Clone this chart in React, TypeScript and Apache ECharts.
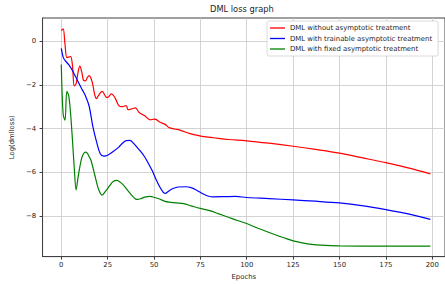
import React, { useEffect, useRef } from "react";
import * as echarts from "echarts";

const TITLE = "DML loss graph";
const X_NAME = "Epochs";
const Y_NAME = "Log(dmlloss)";
const SERIES_NAMES = [
  "DML without asymptotic treatment",
  "DML with trainable asymptotic treatment",
  "DML with fixed asymptotic treatment",
];
const X_TICKS = [0, 25, 50, 75, 100, 125, 150, 175, 200];
const Y_TICKS = [-8, -6, -4, -2, 0];

const redEpochs = [0, 1, 2, 3, 4, 5, 6, 7, 8, 9, 10, 11, 12, 13, 14, 15, 16, 17, 18, 19, 20, 22, 24, 25, 27, 29, 31, 33, 35, 36, 38, 40, 42, 45, 48, 50, 51, 53, 56, 58, 61, 64, 69, 74, 78, 82, 90, 100, 112, 125, 137, 150, 162, 175, 187, 199];
const redLoss = [0.48, 0.55, -0.15, -0.76, -0.74, -0.7, -1.1, -2.05, -1.95, -1.45, -1.15, -1.4, -1.8, -1.82, -1.68, -1.58, -1.7, -2.0, -2.45, -2.64, -2.5, -2.3, -2.55, -2.58, -2.42, -2.6, -2.95, -3.0, -2.95, -3.14, -3.1, -3.06, -3.27, -3.42, -3.6, -3.57, -3.58, -3.7, -3.81, -3.95, -4.02, -4.07, -4.22, -4.32, -4.38, -4.42, -4.5, -4.56, -4.67, -4.81, -4.95, -5.12, -5.33, -5.56, -5.8, -6.07];

const blueEpochs = [0, 1, 2, 4, 6, 8, 11, 13, 15, 17, 19, 21, 23, 25, 28, 31, 33, 35, 37, 39, 41, 43, 45, 47, 49, 51, 53, 55, 56, 58, 60, 63, 67, 70, 73, 76, 79, 82, 88, 94, 100, 112, 125, 137, 150, 162, 175, 187, 199];
const blueLoss = [-0.34, -0.74, -0.89, -1.08, -1.35, -1.68, -2.18, -2.5, -2.97, -3.9, -4.6, -5.15, -5.26, -5.22, -5.05, -4.85, -4.67, -4.55, -4.54, -4.68, -4.87, -5.07, -5.3, -5.6, -5.92, -6.3, -6.65, -6.92, -6.96, -6.85, -6.75, -6.67, -6.66, -6.7, -6.82, -6.97, -7.08, -7.12, -7.11, -7.1, -7.15, -7.2, -7.26, -7.32, -7.4, -7.52, -7.7, -7.9, -8.15];

const greenEpochs = [0, 1, 2, 3, 4, 5, 6, 7, 8, 9, 10, 11, 12, 13, 14, 15, 16, 18, 20, 22, 24, 26, 28, 30, 32, 34, 36, 38, 40, 41, 43, 45, 48, 50, 53, 56, 59, 62, 66, 70, 75, 80, 85, 90, 95, 100, 105, 110, 115, 120, 125, 130, 135, 140, 150, 175, 199];
const greenLoss = [-1.07, -3.35, -3.62, -2.3, -2.5, -3.3, -4.5, -5.8, -6.8, -6.25, -5.75, -5.35, -5.15, -5.08, -5.12, -5.28, -5.45, -6.1, -6.75, -7.04, -6.85, -6.62, -6.42, -6.37, -6.47, -6.63, -6.85, -7.05, -7.22, -7.24, -7.2, -7.13, -7.1, -7.14, -7.22, -7.33, -7.37, -7.4, -7.43, -7.53, -7.65, -7.75, -7.9, -8.05, -8.2, -8.34, -8.52, -8.68, -8.84, -8.99, -9.13, -9.22, -9.29, -9.33, -9.36, -9.37, -9.37];

const COLORS = ["#ff0000", "#0000ff", "#008000"];
const FONT = "DejaVu Sans";
const TEXT = "#262626";

function pairs(xs: number[], ys: number[]) {
  return xs.map((x, i) => [x, ys[i]]);
}

export default function App() {
  const ref = useRef<HTMLDivElement>(null);
  useEffect(() => {
    if (!ref.current) return;
    const chart = echarts.init(ref.current, null, { renderer: "svg" });
    const datasets = [
      pairs(redEpochs, redLoss),
      pairs(blueEpochs, blueLoss),
      pairs(greenEpochs, greenLoss),
    ];
    chart.setOption({
      animation: false,
      backgroundColor: "#ffffff",
      title: {
        text: TITLE,
        left: 210,
        top: 5,
        padding: 0,
        textStyle: { fontFamily: FONT, fontSize: 8.3, fontWeight: "normal", color: TEXT },
      },
      legend: {
        data: SERIES_NAMES,
        orient: "vertical",
        left: 267,
        top: 21,
        padding: [3, 6, 3, 3],
        icon: "rect",
        itemWidth: 15,
        itemHeight: 1.3,
        itemGap: 2.5,
        backgroundColor: "#ffffff",
        borderColor: "#d0d0d0",
        borderWidth: 0.8,
        borderRadius: 2,
        textStyle: { fontFamily: FONT, fontSize: 6.9, lineHeight: 8, color: TEXT, padding: [0, 0, 0, 0] },
      },
      grid: {
        left: 38,
        top: 18,
        right: 0,
        bottom: 22,
        show: true,
        borderColor: "#404040",
        borderWidth: 1,
      },
      xAxis: {
        type: "value",
        min: -10.1,
        max: 206.9,
        name: X_NAME,
        nameLocation: "middle",
        nameGap: 13,
        nameTextStyle: { fontFamily: FONT, fontSize: 6.9, color: TEXT },
        axisLine: { show: true, onZero: false, lineStyle: { color: "#404040", width: 1 } },
        axisTick: { show: true, length: 3, lineStyle: { color: "#404040" }, customValues: X_TICKS },
        axisLabel: {
          fontFamily: FONT,
          fontSize: 6.9,
          color: TEXT,
          margin: 4.5,
          customValues: X_TICKS,
        },
        splitLine: { show: true, lineStyle: { color: "#c8c8c8", width: 0.8 } },
      },
      yAxis: {
        type: "value",
        min: -9.85,
        max: 1.05,
        name: Y_NAME,
        nameLocation: "middle",
        nameGap: 19,
        nameRotate: 90,
        nameTextStyle: { fontFamily: FONT, fontSize: 6.9, color: TEXT },
        axisLine: { show: true, onZero: false, lineStyle: { color: "#404040", width: 1 } },
        axisTick: { show: true, length: 3, lineStyle: { color: "#404040" }, customValues: Y_TICKS },
        axisLabel: {
          fontFamily: FONT,
          fontSize: 6.9,
          color: TEXT,
          margin: 6.5,
          customValues: Y_TICKS,
          formatter: (v: number) => String(v).replace("-", "\u2212"),
        },
        splitLine: { show: true, lineStyle: { color: "#c8c8c8", width: 0.8 } },
      },
      series: SERIES_NAMES.map((name, i) => ({
        name,
        type: "line",
        data: datasets[i],
        symbol: "none",
        smooth: 0.35,
        color: COLORS[i],
        lineStyle: { color: COLORS[i], width: 1.2 },
      })),
    });
    return () => chart.dispose();
  }, []);
  return (
    <div
      ref={ref}
      style={{ position: "fixed", left: 0, top: 0, width: 445, height: 285 }}
    />
  );
}
